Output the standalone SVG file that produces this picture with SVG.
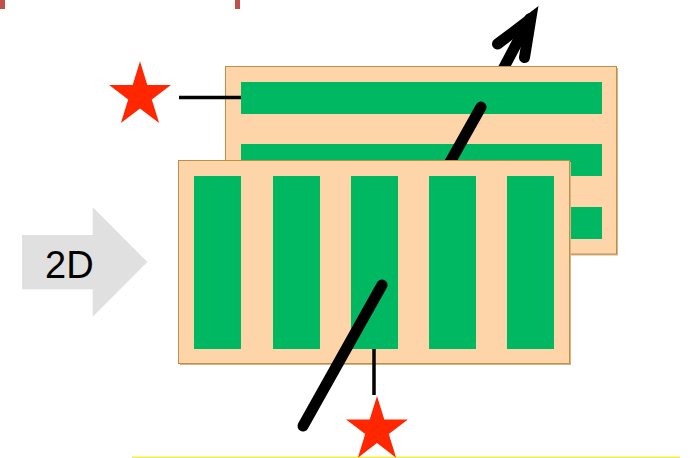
<svg xmlns="http://www.w3.org/2000/svg" width="690" height="458" viewBox="0 0 690 458">
<style>
.panel{fill:#FED5A8;stroke:#BE8E4A;stroke-width:1}
.shadow{fill:#D2B486}
.bar{fill:#00B862}
.needle{fill:none;stroke:#000;stroke-width:11;stroke-linecap:round}
.lead{stroke:#000;stroke-width:3.5;fill:none}
.star{fill:#FF2600}
.label{font-family:"Liberation Sans",Arial,sans-serif;font-size:38px;fill:#000}
</style>
<defs>
<path id="star" d="M0,-32.5 L7.3,-10 L30.9,-10 L11.8,3.8 L19.1,26.3 L0,12.4 L-19.1,26.3 L-11.8,3.8 L-30.9,-10 L-7.3,-10 Z"/>
</defs>
<rect x="0" y="0" width="5" height="9" fill="#C0504D"/>
<rect x="235" y="0" width="5" height="9" fill="#C0504D"/>
<rect x="132" y="456.5" width="548" height="1.5" fill="#F2EE45"/>
<g id="arrow2d">
<polygon points="22,235 92.7,235 92.7,207.3 147.3,262 92.7,316.7 92.7,289.3 22,289.3" fill="#E0E0E0"/>
<text class="label" x="45" y="278">2D</text>
</g>
<g id="connectors">
<g id="arrow-top">
<line class="needle" x1="492" y1="90" x2="529.7" y2="18.8" stroke-width="13" stroke-linecap="butt"/>
<polyline class="needle" points="497.5,44 530.8,18.8 524.5,57.5" stroke-width="11.5" stroke-linejoin="miter"/>
</g>
</g>
<g id="back-panel">
<rect class="shadow" x="227" y="68" width="391" height="187.5"/>
<rect class="panel" x="225.5" y="66.5" width="391" height="187.5"/>
<rect class="bar" x="241" y="82" width="361" height="32"/>
<rect class="bar" x="241" y="144" width="361" height="32"/>
<rect class="bar" x="241" y="207" width="361" height="32"/>
</g>
<g id="needle-back">
<line class="needle" x1="481" y1="107" x2="440" y2="180"/>
</g>
<g id="front-panel">
<rect class="shadow" x="180" y="162" width="391" height="203"/>
<rect class="panel" x="178.5" y="160.5" width="391" height="203"/>
<rect class="bar" x="194" y="176" width="47" height="173"/>
<rect class="bar" x="273" y="176" width="47" height="173"/>
<rect class="bar" x="351" y="176" width="47" height="173"/>
<rect class="bar" x="429" y="176" width="47" height="173"/>
<rect class="bar" x="507" y="176" width="47" height="173"/>
</g>
<g id="needle-front">
<line class="needle" x1="382" y1="285" x2="303" y2="426"/>
</g>
<g id="star-top">
<line class="lead" x1="179" y1="97.5" x2="241" y2="97.5"/>
<use href="#star" class="star" transform="translate(140,95.4) scale(1,1.05)"/>
</g>
<g id="star-bottom">
<line class="lead" x1="374" y1="349" x2="374" y2="395"/>
<use href="#star" class="star" transform="translate(377,430.1) scale(1,1.05)"/>
</g>
</svg>
